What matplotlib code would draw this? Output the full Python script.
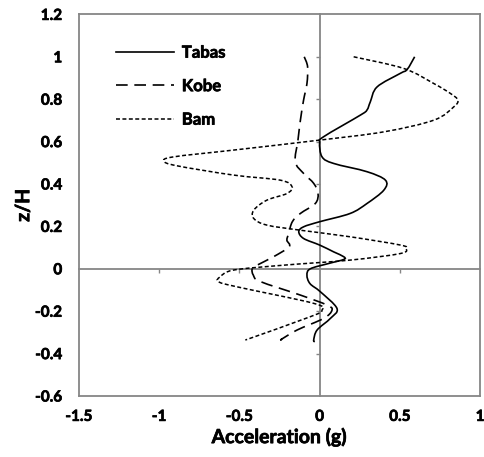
import os
import matplotlib
matplotlib.use("Agg")
import matplotlib.pyplot as plt
import matplotlib.patheffects as pe
from matplotlib import font_manager
from matplotlib.font_manager import FontProperties
from matplotlib.path import Path
from matplotlib.patches import PathPatch
from matplotlib.lines import Line2D
import numpy as np

# Peak acceleration profiles (g) against normalised height z/H
tabas_acc = [0.592, 0.545, 0.503, 0.358, 0.316, 0.295, 0.254, 0.025, 0.0, 0.015, 0.087,
             0.295, 0.41, 0.40, 0.295, 0.19, 0.0, -0.1, -0.13, -0.1, 0.0, 0.087, 0.15, 0.15,
             0.056, -0.058, -0.079, -0.06, 0.004, 0.108, 0.067, -0.016, -0.037, -0.03]
tabas_z = [1.0, 0.94, 0.922, 0.858, 0.788, 0.749, 0.725, 0.623, 0.595, 0.528, 0.497,
           0.458, 0.418, 0.371, 0.308, 0.261, 0.222, 0.198, 0.175, 0.143, 0.112, 0.08, 0.057,
           0.044, 0.025, 0.0, -0.03, -0.07, -0.108, -0.187, -0.234, -0.289, -0.336, -0.344]

kobe_acc = [-0.096, -0.075, -0.079, -0.1, -0.12, -0.135, -0.152, -0.1, -0.037, -0.01, -0.027,
            -0.12, -0.17, -0.193, -0.204, -0.19, -0.287, -0.39, -0.42, -0.413, -0.37, -0.12,
            0.046, 0.077, 0.025, -0.141, -0.245, -0.225]
kobe_z = [1.0, 0.953, 0.874, 0.796, 0.70, 0.607, 0.505, 0.45, 0.403, 0.355, 0.308, 0.261,
          0.222, 0.167, 0.135, 0.104, 0.057, 0.017, 0.0, -0.03, -0.06, -0.124, -0.171,
          -0.195, -0.234, -0.289, -0.336, -0.328]

bam_acc = [0.212, 0.524, 0.711, 0.815, 0.861, 0.836, 0.711, 0.4, 0.0, -0.536, -0.91, -0.969,
           -0.89, -0.536, -0.245, -0.172, -0.204, -0.328, -0.41, -0.41, -0.328, -0.12, 0.19,
           0.503, 0.538, 0.503, 0.19, -0.225, -0.536, -0.62, -0.63, -0.515, -0.037, 0.015,
           -0.058, -0.463]
bam_z = [1.0, 0.945, 0.874, 0.827, 0.796, 0.764, 0.701, 0.646, 0.607, 0.56, 0.528, 0.508,
         0.486, 0.442, 0.418, 0.387, 0.355, 0.324, 0.277, 0.237, 0.206, 0.182, 0.151, 0.112,
         0.096, 0.072, 0.041, 0.017, -0.006, -0.038, -0.061, -0.085, -0.163, -0.195, -0.226,
         -0.336]

x_ticks = [-1.5, -1, -0.5, 0, 0.5, 1]
x_tick_labels = ["-1.5", "-1", "-0.5", "0", "0.5", "1"]
y_ticks = [-0.6, -0.4, -0.2, 0, 0.2, 0.4, 0.6, 0.8, 1.0, 1.2]
y_tick_labels = ["-0.6", "-0.4", "-0.2", "0", "0.2", "0.4", "0.6", "0.8", "1", "1.2"]


def bold_font_file(stems):
    """Path of the first installed font file whose name matches one of the stems."""
    files = font_manager.findSystemFonts(fontext="ttf")
    by_name = {os.path.basename(f).lower(): f for f in files}
    for stem in stems:
        for ext in (".ttf", ".otf"):
            key = (stem + ext).lower()
            if key in by_name:
                return by_name[key]
    return None


BOLD_FILE = bold_font_file(["Lato-Bold", "OpenSans-Bold", "NotoSans-Bold",
                            "LiberationSans-Bold", "DejaVuSans-Bold"])


def fp(size):
    if BOLD_FILE:
        return FontProperties(fname=BOLD_FILE, size=size)
    return FontProperties(family="DejaVu Sans", weight="bold", size=size)


# A thin outline in the text colour gives the heavier strokes of the labels
HEAVY = [pe.withStroke(linewidth=0.5, foreground="black")]

GRAY = "#868686"


def smooth_path(ax, xs, ys, tension=1 / 6):
    """Catmull-Rom style smoothed path through the points, in display coordinates."""
    P = ax.transData.transform(np.column_stack([xs, ys]))
    n = len(P)
    verts = [P[0]]
    codes = [Path.MOVETO]
    for i in range(n - 1):
        p0 = P[i - 1] if i > 0 else P[i]
        p1 = P[i]
        p2 = P[i + 1]
        p3 = P[i + 2] if i + 2 < n else P[i + 1]
        c1 = p1 + (p2 - p0) * tension
        c2 = p2 - (p3 - p1) * tension
        verts += [c1, c2, p2]
        codes += [Path.CURVE4] * 3
    return Path(verts, codes)


fig = plt.figure(figsize=(4.84, 4.57), dpi=100)
ax = fig.add_axes([0.163, 0.1335, 0.829, 0.835])
ax.set_xlim(-1.5, 1.0)
ax.set_ylim(-0.6, 1.2)

styles = [
    ("Tabas", tabas_acc, tabas_z, dict(lw=1.2, ls="-")),
    ("Kobe", kobe_acc, kobe_z, dict(lw=1.2, ls=(0, (7, 4)))),
    ("Bam", bam_acc, bam_z, dict(lw=1.1, ls=(0, (2.6, 1.6)))),
]
handles = []
for name, xs, ys, st in styles:
    path = smooth_path(ax, xs, ys)
    patch = PathPatch(path, transform=None, fill=False, edgecolor="black",
                      linewidth=st["lw"], linestyle=st["ls"], zorder=3)
    ax.add_artist(patch)
    handles.append(Line2D([], [], color="black", lw=st["lw"], ls=st["ls"], label=name))

ax.set_xticks(x_ticks)
ax.set_xticklabels(x_tick_labels, fontproperties=fp(11))
ax.set_yticks(y_ticks)
ax.set_yticklabels(y_tick_labels, fontproperties=fp(11))
ax.tick_params(axis="both", length=0)
ax.tick_params(axis="x", pad=10)
ax.tick_params(axis="y", pad=12)
for lab in ax.get_xticklabels() + ax.get_yticklabels():
    lab.set_path_effects(HEAVY)

for sp in ax.spines.values():
    sp.set_color(GRAY)
    sp.set_linewidth(1.3)

# Axes crossing at the origin, with small outward ticks
sx = ax.secondary_xaxis(1 / 3)
sx.set_xticks([t for t in x_ticks if t not in (-1.5, 0, 1)])
sx.xaxis.set_ticks_position("bottom")
sx.tick_params(axis="x", direction="out", length=3, width=1, color=GRAY)
sx.set_xticklabels([])
for sp in sx.spines.values():
    sp.set_color(GRAY)
    sp.set_linewidth(1.3)

sy = ax.secondary_yaxis(0.6)
sy.set_yticks([t for t in y_ticks if t not in (-0.6, 0, 1.2)])
sy.yaxis.set_ticks_position("left")
sy.tick_params(axis="y", direction="out", length=3, width=1, color=GRAY)
sy.set_yticklabels([])
for sp in sy.spines.values():
    sp.set_color(GRAY)
    sp.set_linewidth(1.3)

ax.set_xlabel("Acceleration (g)", fontproperties=fp(14), labelpad=3, path_effects=HEAVY)
ax.set_ylabel("z/H", fontproperties=fp(14), labelpad=2, path_effects=HEAVY)

leg = ax.legend(handles=handles, loc="upper left", bbox_to_anchor=(0.055, 0.96),
                frameon=False, handlelength=3.5, handletextpad=0.45, labelspacing=1.05,
                prop=fp(12))
for t in leg.get_texts():
    t.set_path_effects(HEAVY)

fig.savefig("out.png", dpi=100)
